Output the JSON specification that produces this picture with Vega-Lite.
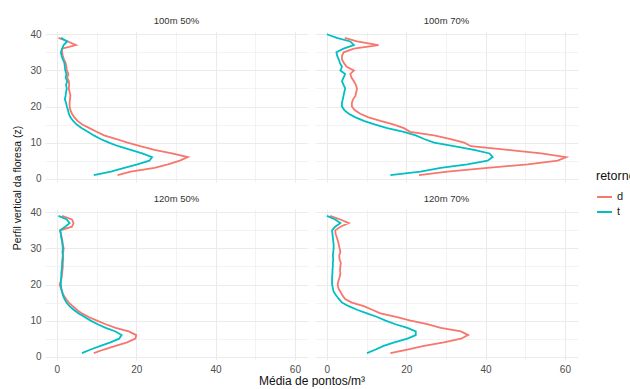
{
  "$schema": "https://vega.github.io/schema/vega-lite/v6.json",
  "autosize": {"type": "pad"},
  "padding": {"left": 12, "top": 15, "right": 0, "bottom": 0},
  "title": {"text": "Média de pontos/m³", "orient": "bottom", "anchor": "middle", "frame": "group", "dx": 267, "fontSize": 12, "fontWeight": "normal", "font": "Liberation Sans", "color": "#111111", "offset": 2},
  "data": {"values": [
    {"p":"100m 50%","z":39,"d":0.4,"t":1.0},{"p":"100m 50%","z":38,"d":2.8,"t":2.6},{"p":"100m 50%","z":37,"d":4.8,"t":1.7},{"p":"100m 50%","z":36,"d":1.3,"t":1.3},{"p":"100m 50%","z":35,"d":1.3,"t":1.0},{"p":"100m 50%","z":34,"d":1.5,"t":1.2},{"p":"100m 50%","z":33,"d":1.8,"t":1.5},{"p":"100m 50%","z":32,"d":2.2,"t":1.9},{"p":"100m 50%","z":31,"d":2.4,"t":2.0},{"p":"100m 50%","z":30,"d":2.5,"t":2.1},{"p":"100m 50%","z":29,"d":2.9,"t":2.4},{"p":"100m 50%","z":28,"d":2.6,"t":2.2},{"p":"100m 50%","z":27,"d":3.0,"t":2.6},{"p":"100m 50%","z":26,"d":3.1,"t":2.3},{"p":"100m 50%","z":25,"d":3.0,"t":2.5},{"p":"100m 50%","z":24,"d":3.2,"t":2.3},{"p":"100m 50%","z":23,"d":3.4,"t":2.2},{"p":"100m 50%","z":22,"d":3.3,"t":2.0},{"p":"100m 50%","z":21,"d":3.2,"t":2.3},{"p":"100m 50%","z":20,"d":3.2,"t":2.5},{"p":"100m 50%","z":19,"d":3.4,"t":2.8},{"p":"100m 50%","z":18,"d":3.8,"t":3.0},{"p":"100m 50%","z":17,"d":4.4,"t":3.4},{"p":"100m 50%","z":16,"d":5.2,"t":4.1},{"p":"100m 50%","z":15,"d":6.4,"t":5.0},{"p":"100m 50%","z":14,"d":8.2,"t":6.3},{"p":"100m 50%","z":13,"d":10.0,"t":7.8},{"p":"100m 50%","z":12,"d":11.9,"t":9.3},{"p":"100m 50%","z":11,"d":15.0,"t":11.0},{"p":"100m 50%","z":10,"d":17.8,"t":13.1},{"p":"100m 50%","z":9,"d":21.0,"t":15.5},{"p":"100m 50%","z":8,"d":24.6,"t":18.6},{"p":"100m 50%","z":7,"d":29.0,"t":21.5},{"p":"100m 50%","z":6,"d":33.0,"t":24.0},{"p":"100m 50%","z":5,"d":31.0,"t":23.3},{"p":"100m 50%","z":4,"d":28.0,"t":20.3},{"p":"100m 50%","z":3,"d":24.6,"t":17.0},{"p":"100m 50%","z":2,"d":18.6,"t":13.6},{"p":"100m 50%","z":1,"d":15.3,"t":9.3},
    {"p":"100m 70%","z":40,"d":null,"t":0.0},{"p":"100m 70%","z":39,"d":4.5,"t":2.5},{"p":"100m 70%","z":38,"d":7.6,"t":5.9},{"p":"100m 70%","z":37,"d":13.0,"t":6.8},{"p":"100m 70%","z":36,"d":6.8,"t":4.2},{"p":"100m 70%","z":35,"d":4.2,"t":2.4},{"p":"100m 70%","z":34,"d":3.8,"t":2.6},{"p":"100m 70%","z":33,"d":3.8,"t":3.0},{"p":"100m 70%","z":32,"d":4.3,"t":3.3},{"p":"100m 70%","z":31,"d":5.0,"t":3.8},{"p":"100m 70%","z":30,"d":6.8,"t":3.4},{"p":"100m 70%","z":29,"d":5.9,"t":4.6},{"p":"100m 70%","z":28,"d":6.2,"t":4.2},{"p":"100m 70%","z":27,"d":6.8,"t":3.8},{"p":"100m 70%","z":26,"d":7.3,"t":4.2},{"p":"100m 70%","z":25,"d":7.6,"t":4.6},{"p":"100m 70%","z":24,"d":7.4,"t":4.4},{"p":"100m 70%","z":23,"d":7.2,"t":4.2},{"p":"100m 70%","z":22,"d":6.6,"t":4.0},{"p":"100m 70%","z":21,"d":6.3,"t":3.8},{"p":"100m 70%","z":20,"d":6.3,"t":3.8},{"p":"100m 70%","z":19,"d":7.0,"t":4.4},{"p":"100m 70%","z":18,"d":8.4,"t":5.5},{"p":"100m 70%","z":17,"d":10.5,"t":7.2},{"p":"100m 70%","z":16,"d":13.5,"t":9.3},{"p":"100m 70%","z":15,"d":16.9,"t":12.2},{"p":"100m 70%","z":14,"d":19.4,"t":15.2},{"p":"100m 70%","z":13,"d":21.0,"t":19.4},{"p":"100m 70%","z":12,"d":27.0,"t":22.4},{"p":"100m 70%","z":11,"d":31.2,"t":24.5},{"p":"100m 70%","z":10,"d":34.6,"t":27.0},{"p":"100m 70%","z":9,"d":36.3,"t":32.0},{"p":"100m 70%","z":8,"d":45.6,"t":37.1},{"p":"100m 70%","z":7,"d":54.0,"t":41.0},{"p":"100m 70%","z":6,"d":60.3,"t":41.8},{"p":"100m 70%","z":5,"d":58.2,"t":40.5},{"p":"100m 70%","z":4,"d":50.6,"t":35.4},{"p":"100m 70%","z":3,"d":40.5,"t":28.7},{"p":"100m 70%","z":2,"d":30.4,"t":23.6},{"p":"100m 70%","z":1,"d":23.2,"t":16.0},
    {"p":"120m 50%","z":39,"d":1.3,"t":0.4},{"p":"120m 50%","z":38,"d":3.8,"t":2.5},{"p":"120m 50%","z":37,"d":4.2,"t":3.2},{"p":"120m 50%","z":36,"d":3.8,"t":2.1},{"p":"120m 50%","z":35,"d":0.8,"t":0.8},{"p":"120m 50%","z":34,"d":1.0,"t":1.0},{"p":"120m 50%","z":33,"d":1.2,"t":1.1},{"p":"120m 50%","z":32,"d":1.4,"t":1.3},{"p":"120m 50%","z":31,"d":1.5,"t":1.4},{"p":"120m 50%","z":30,"d":1.7,"t":1.5},{"p":"120m 50%","z":29,"d":1.6,"t":1.4},{"p":"120m 50%","z":28,"d":1.5,"t":1.5},{"p":"120m 50%","z":27,"d":1.6,"t":1.4},{"p":"120m 50%","z":26,"d":1.5,"t":1.3},{"p":"120m 50%","z":25,"d":1.5,"t":1.3},{"p":"120m 50%","z":24,"d":1.4,"t":1.2},{"p":"120m 50%","z":23,"d":1.3,"t":1.1},{"p":"120m 50%","z":22,"d":1.2,"t":1.1},{"p":"120m 50%","z":21,"d":1.0,"t":1.0},{"p":"120m 50%","z":20,"d":0.7,"t":1.0},{"p":"120m 50%","z":19,"d":1.0,"t":1.1},{"p":"120m 50%","z":18,"d":1.3,"t":1.3},{"p":"120m 50%","z":17,"d":1.7,"t":1.5},{"p":"120m 50%","z":16,"d":2.3,"t":1.9},{"p":"120m 50%","z":15,"d":3.0,"t":2.4},{"p":"120m 50%","z":14,"d":4.0,"t":3.2},{"p":"120m 50%","z":13,"d":5.0,"t":4.2},{"p":"120m 50%","z":12,"d":6.3,"t":5.5},{"p":"120m 50%","z":11,"d":8.0,"t":7.0},{"p":"120m 50%","z":10,"d":10.1,"t":8.5},{"p":"120m 50%","z":9,"d":12.3,"t":10.3},{"p":"120m 50%","z":8,"d":14.8,"t":12.3},{"p":"120m 50%","z":7,"d":18.1,"t":14.8},{"p":"120m 50%","z":6,"d":20.0,"t":16.3},{"p":"120m 50%","z":5,"d":19.8,"t":15.7},{"p":"120m 50%","z":4,"d":17.7,"t":13.5},{"p":"120m 50%","z":3,"d":14.8,"t":11.0},{"p":"120m 50%","z":2,"d":11.8,"t":8.5},{"p":"120m 50%","z":1,"d":9.3,"t":6.3},
    {"p":"120m 70%","z":39,"d":0.8,"t":0.0},{"p":"120m 70%","z":38,"d":3.4,"t":2.1},{"p":"120m 70%","z":37,"d":5.5,"t":3.4},{"p":"120m 70%","z":36,"d":3.4,"t":2.1},{"p":"120m 70%","z":35,"d":2.1,"t":1.3},{"p":"120m 70%","z":34,"d":2.2,"t":1.4},{"p":"120m 70%","z":33,"d":2.5,"t":1.5},{"p":"120m 70%","z":32,"d":2.8,"t":1.6},{"p":"120m 70%","z":31,"d":3.0,"t":1.7},{"p":"120m 70%","z":30,"d":3.2,"t":1.7},{"p":"120m 70%","z":29,"d":3.4,"t":1.6},{"p":"120m 70%","z":28,"d":3.1,"t":1.5},{"p":"120m 70%","z":27,"d":3.2,"t":1.6},{"p":"120m 70%","z":26,"d":3.5,"t":1.5},{"p":"120m 70%","z":25,"d":3.4,"t":1.5},{"p":"120m 70%","z":24,"d":3.3,"t":1.4},{"p":"120m 70%","z":23,"d":3.4,"t":1.4},{"p":"120m 70%","z":22,"d":3.2,"t":1.3},{"p":"120m 70%","z":21,"d":2.9,"t":1.3},{"p":"120m 70%","z":20,"d":2.7,"t":1.3},{"p":"120m 70%","z":19,"d":2.9,"t":1.5},{"p":"120m 70%","z":18,"d":3.4,"t":1.7},{"p":"120m 70%","z":17,"d":3.9,"t":2.3},{"p":"120m 70%","z":16,"d":4.6,"t":3.0},{"p":"120m 70%","z":15,"d":6.3,"t":3.8},{"p":"120m 70%","z":14,"d":9.3,"t":5.5},{"p":"120m 70%","z":13,"d":11.4,"t":7.6},{"p":"120m 70%","z":12,"d":13.5,"t":10.1},{"p":"120m 70%","z":11,"d":17.7,"t":12.7},{"p":"120m 70%","z":10,"d":21.1,"t":14.8},{"p":"120m 70%","z":9,"d":25.3,"t":17.3},{"p":"120m 70%","z":8,"d":28.7,"t":20.3},{"p":"120m 70%","z":7,"d":33.8,"t":22.4},{"p":"120m 70%","z":6,"d":35.6,"t":22.4},{"p":"120m 70%","z":5,"d":33.8,"t":20.3},{"p":"120m 70%","z":4,"d":29.5,"t":17.0},{"p":"120m 70%","z":3,"d":24.5,"t":14.3},{"p":"120m 70%","z":2,"d":20.3,"t":12.3},{"p":"120m 70%","z":1,"d":16.0,"t":10.1}
  ]},
  "transform": [
    {"fold": ["d", "t"], "as": ["retorno", "val"]},
    {"filter": "isValid(datum.val)"}
  ],
  "facet": {
    "field": "p", "type": "nominal",
    "header": {
      "title": "Perfil vertical da floresa (z)", "titleOrient": "left", "titleAngle": 270, "titlePadding": -4,
      "titleFontSize": 10.5, "titleFont": "Liberation Sans", "titleFontWeight": "normal", "titleColor": "#111111",
      "labelFontSize": 9.5, "labelFont": "Liberation Sans", "labelColor": "#333333", "labelPadding": 6
    }
  },
  "columns": 2,
  "spacing": {"row": 11, "column": 7},
  "spec": {
    "width": 263,
    "height": 151,
    "mark": {"type": "line", "strokeWidth": 1.8, "clip": true},
    "encoding": {
      "x": {
        "field": "val", "type": "quantitative",
        "scale": {"domain": [-3, 63.3], "nice": false, "zero": false},
        "axis": {
          "title": null, "values": [0, 10, 20, 30, 40, 50, 60],
          "labelExpr": "datum.value % 20 == 0 ? datum.label : ''",
          "ticks": false, "domain": false, "labelPadding": 4,
          "labelFontSize": 10, "labelColor": "#4d4d4d", "labelFont": "Liberation Sans",
          "gridColor": "#ebebeb",
          "gridWidth": {"condition": {"test": "datum.value % 20 == 0", "value": 1.1}, "value": 0.6}
        }
      },
      "y": {
        "field": "z", "type": "quantitative",
        "scale": {"domain": [-0.9, 40.9], "nice": false, "zero": false},
        "axis": {
          "title": null, "values": [0, 5, 10, 15, 20, 25, 30, 35, 40],
          "labelExpr": "datum.value % 10 == 0 ? datum.label : ''",
          "ticks": false, "domain": false, "labelPadding": 4,
          "labelFontSize": 10, "labelColor": "#4d4d4d", "labelFont": "Liberation Sans",
          "gridColor": "#ebebeb",
          "gridWidth": {"condition": {"test": "datum.value % 10 == 0", "value": 1.1}, "value": 0.6}
        }
      },
      "color": {
        "field": "retorno", "type": "nominal",
        "scale": {"domain": ["d", "t"], "range": ["#F8766D", "#00BFC4"]},
        "legend": {
          "orient": "none", "legendX": 551, "legendY": 139,
          "title": "retorno", "titleFontSize": 12.5, "titleFont": "Liberation Sans", "titleFontWeight": "normal", "titleColor": "#111111", "titlePadding": 6,
          "labelFontSize": 11, "labelFont": "Liberation Sans", "labelColor": "#222222",
          "symbolType": "stroke", "symbolStrokeWidth": 2, "symbolSize": 225, "rowPadding": 1
        }
      },
      "order": {"field": "z", "type": "quantitative"}
    }
  },
  "config": {"view": {"stroke": null}, "font": "Liberation Sans"}
}
